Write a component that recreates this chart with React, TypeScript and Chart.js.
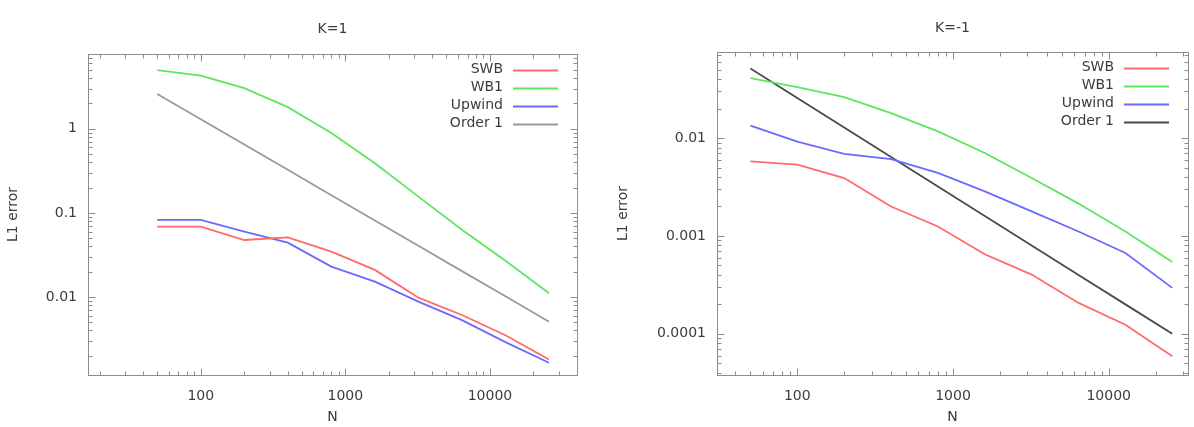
import React, { useEffect, useRef } from "react";
import { Chart, registerables } from "chart.js";

Chart.register(...registerables);

// ---- data ----
const N = [50, 100, 200, 400, 800, 1600, 3200, 6400, 12800, 25600];
const seriesLabels = ["SWB", "WB1", "Upwind", "Order 1"];

// K = 1
const k1Swb = [0.0687, 0.0687, 0.0476, 0.051, 0.0346, 0.021, 0.0098, 0.0061, 0.0035, 0.0018];
const k1Wb1 = [5.0, 4.3, 3.05, 1.81, 0.89, 0.39, 0.156, 0.063, 0.027, 0.0111];
const k1Upwind = [0.0826, 0.0826, 0.06, 0.0443, 0.023, 0.0152, 0.0088, 0.0053, 0.0029, 0.00165];
const k1Order1 = [2.6, 1.3, 0.65, 0.325, 0.1625, 0.0813, 0.0406, 0.0203, 0.0102, 0.00508];

// K = -1
const km1Swb = [0.00577, 0.00534, 0.0039, 0.002, 0.00125, 0.00065, 0.000403, 0.000207, 0.000124, 0.0000589];
const km1Wb1 = [0.041, 0.0331, 0.0262, 0.018, 0.0117, 0.00703, 0.0039, 0.00214, 0.00111, 0.000543];
const km1Upwind = [0.0134, 0.0092, 0.0069, 0.0061, 0.0044, 0.00285, 0.00178, 0.00111, 0.00067, 0.000295];
const km1Order1 = [0.0512, 0.0256, 0.0128, 0.0064, 0.0032, 0.0016, 0.0008, 0.0004, 0.0002, 0.0001];

const xTickValues = [100, 1000, 10000];
const k1YTicks = [0.01, 0.1, 1];
const km1YTicks = [0.0001, 0.001, 0.01];

const FONT = '"DejaVu Sans", "Liberation Sans", sans-serif';
const TEXT = "#3c3c3c";

const framePlugin = {
  id: "frame",
  afterDatasetsDraw(chart: any) {
    const { ctx, chartArea: a, scales } = chart;
    ctx.save();
    ctx.strokeStyle = "#8c8c8c";
    ctx.lineWidth = 1;
    const L = Math.round(a.left) + 0.5;
    const R = Math.round(a.right) + 0.5;
    const T = Math.round(a.top) + 0.5;
    const B = Math.round(a.bottom) + 0.5;
    ctx.strokeRect(L, T, R - L, B - T);
    const drawAxis = (scale: any, horizontal: boolean) => {
      const lo = Math.floor(Math.log10(scale.min));
      const hi = Math.ceil(Math.log10(scale.max));
      for (let d = lo; d <= hi; d++) {
        for (let m = 1; m <= 9; m++) {
          const v = m * Math.pow(10, d);
          if (v < scale.min || v > scale.max) continue;
          const p = Math.round(scale.getPixelForValue(v)) + 0.5;
          const len = m === 1 ? 7 : 4;
          ctx.beginPath();
          if (horizontal) {
            ctx.moveTo(p, B);
            ctx.lineTo(p, B - len);
            ctx.moveTo(p, T);
            ctx.lineTo(p, T + len);
          } else {
            ctx.moveTo(L, p);
            ctx.lineTo(L + len, p);
            ctx.moveTo(R, p);
            ctx.lineTo(R - len, p);
          }
          ctx.stroke();
        }
      }
    };
    drawAxis(scales.x, true);
    drawAxis(scales.y, false);

    // legend (text right-aligned, sample on the right)
    ctx.font = `14px ${FONT}`;
    ctx.textAlign = "right";
    ctx.textBaseline = "middle";
    chart.data.datasets.forEach((ds: any, i: number) => {
      const y = a.top + 16 + 18 * i;
      ctx.fillStyle = TEXT;
      ctx.fillText(ds.label, a.right - 74, y);
      ctx.strokeStyle = ds.borderColor;
      ctx.lineWidth = 2;
      ctx.beginPath();
      ctx.moveTo(a.right - 64, Math.round(y) + 0.5);
      ctx.lineTo(a.right - 19, Math.round(y) + 0.5);
      ctx.stroke();
    });
    ctx.restore();
  },
};

type PanelProps = {
  title: string;
  series: number[][];
  colors: string[];
  xMin: number;
  xMax: number;
  yMin: number;
  yMax: number;
  yTicks: number[];
  yAxisWidth: number;
  yTitlePad: number;
  padRight: number;
  titlePad: { top: number; bottom: number };
  left: number;
};

function Panel(p: PanelProps) {
  const ref = useRef<HTMLCanvasElement | null>(null);
  useEffect(() => {
    if (!ref.current) return;
    const chart = new Chart(ref.current, {
      type: "line",
      data: {
        datasets: p.series.map((vals, i) => ({
          label: seriesLabels[i],
          data: N.map((n, j) => ({ x: n, y: vals[j] })),
          borderColor: p.colors[i],
          borderWidth: 1.8,
          pointRadius: 0,
          tension: 0,
          fill: false,
        })),
      },
      options: {
        animation: false,
        responsive: false,
        events: [],
        layout: { padding: { left: 0, right: p.padRight, top: 0, bottom: 0 } },
        plugins: {
          legend: { display: false },
          tooltip: { enabled: false },
          title: {
            display: true,
            text: p.title,
            fullSize: false,
            color: TEXT,
            font: { family: FONT, size: 14, weight: "normal" },
            padding: p.titlePad,
          },
        },
        scales: {
          x: {
            type: "logarithmic",
            min: p.xMin,
            max: p.xMax,
            bounds: "data",
            grid: { display: false, drawTicks: false },
            border: { display: false },
            afterBuildTicks: (s: any) => {
              s.ticks = xTickValues.map((v) => ({ value: v }));
            },
            afterFit: (s: any) => {
              s.height = 52;
            },
            ticks: {
              autoSkip: false,
              maxRotation: 0,
              padding: 13,
              color: TEXT,
              font: { family: FONT, size: 14 },
              callback: (v: any) => String(v),
            },
            title: {
              display: true,
              text: "N",
              color: TEXT,
              font: { family: FONT, size: 14 },
              padding: { top: 0, bottom: 1 },
            },
          },
          y: {
            type: "logarithmic",
            min: p.yMin,
            max: p.yMax,
            bounds: "data",
            grid: { display: false, drawTicks: false },
            border: { display: false },
            afterBuildTicks: (s: any) => {
              s.ticks = p.yTicks.map((v) => ({ value: v }));
            },
            afterFit: (s: any) => {
              s.width = p.yAxisWidth;
            },
            ticks: {
              autoSkip: false,
              padding: 11,
              color: TEXT,
              font: { family: FONT, size: 14 },
              callback: (v: any) => String(v),
            },
            title: {
              display: true,
              text: "L1 error",
              color: TEXT,
              font: { family: FONT, size: 14 },
              padding: { top: p.yTitlePad, bottom: 0 },
            },
          },
        },
      },
      plugins: [framePlugin],
    } as any);
    return () => chart.destroy();
  }, []);
  return (
    <canvas
      ref={ref}
      width={597}
      height={427}
      style={{ position: "absolute", left: p.left, top: 0, width: 597, height: 427 }}
    />
  );
}

export default function App() {
  return (
    <div style={{ position: "absolute", left: 0, top: 0, width: 1194, height: 427, background: "#fff" }}>
      <Panel
        title="K=1"
        series={[k1Swb, k1Wb1, k1Upwind, k1Order1]}
        colors={["#ff6a6a", "#5ee65e", "#6a6aff", "#9a9a9a"]}
        xMin={16.6}
        xMax={40000}
        yMin={0.00118}
        yMax={7.8}
        yTicks={k1YTicks}
        yAxisWidth={88}
        yTitlePad={5}
        padRight={20}
        titlePad={{ top: 21, bottom: 16 }}
        left={0}
      />
      <Panel
        title="K=-1"
        series={[km1Swb, km1Wb1, km1Upwind, km1Order1]}
        colors={["#ff6a6a", "#5ee65e", "#6a6aff", "#4a4a4a"]}
        xMin={30.5}
        xMax={32300}
        yMin={0.000038}
        yMax={0.076}
        yTicks={km1YTicks}
        yAxisWidth={120}
        yTitlePad={18}
        padRight={6}
        titlePad={{ top: 20, bottom: 15 }}
        left={597}
      />
    </div>
  );
}
